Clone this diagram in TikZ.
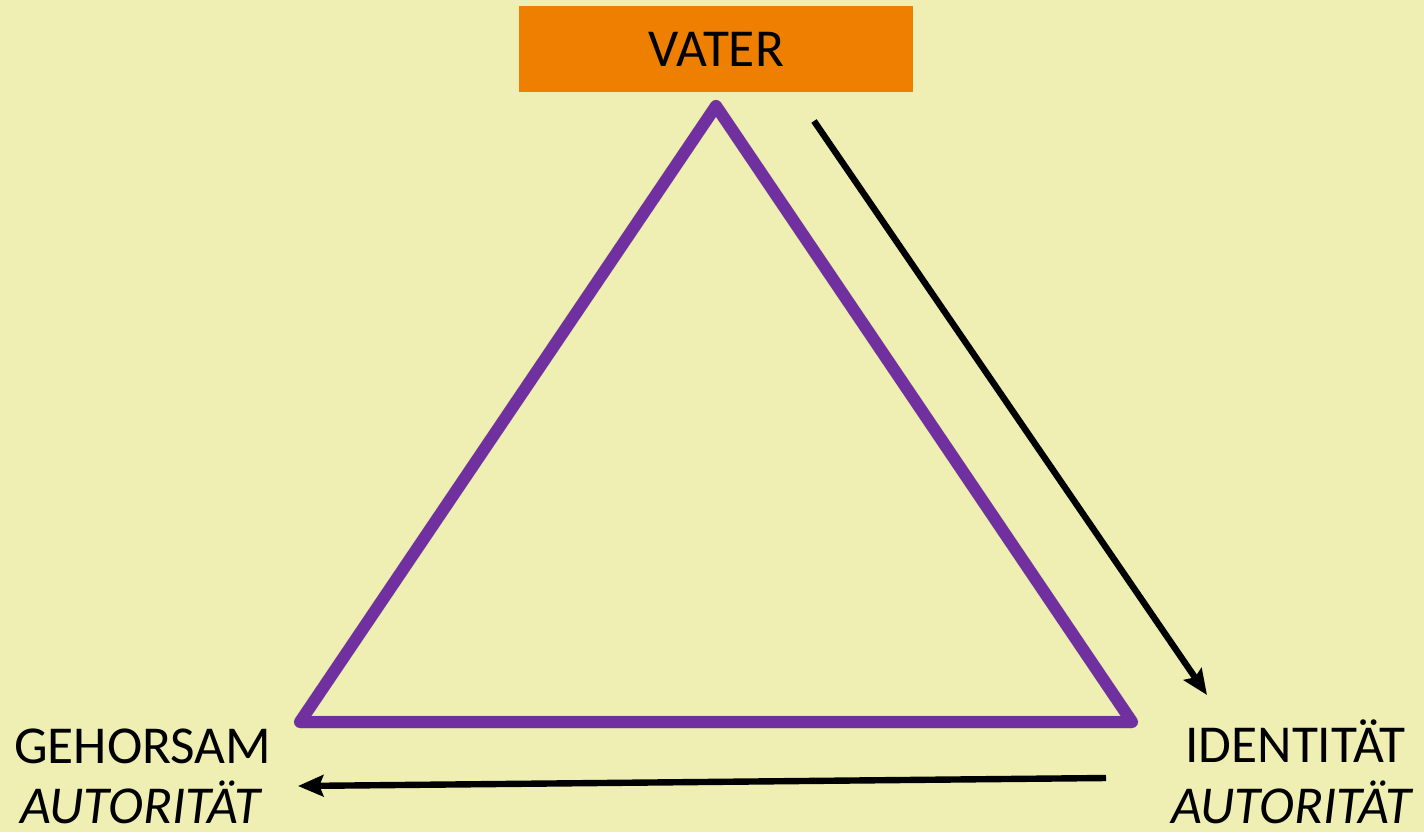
\documentclass[tikz,border=0pt]{standalone}
\usepackage{fontspec}
\setmainfont{Carlito}
\usetikzlibrary{arrows.meta}
\definecolor{bg}{RGB}{239,239,179}
\definecolor{orangebox}{RGB}{239,127,0}
\definecolor{tripurple}{RGB}{112,48,160}
\begin{document}
\begin{tikzpicture}[x=0.75pt,y=-0.75pt,
  lbl/.style={inner sep=0pt,font=\fontsize{40}{48}\selectfont},
  conn/.style={line width=4.8pt,-{Stealth[length=19pt,width=16pt,inset=3pt]}},
  tri/.style={draw=tripurple,line width=9pt,line join=round,line cap=round}]
\fill[bg] (0,0) rectangle (1424,832);
\useasboundingbox (0,0) rectangle (1424,832);
% orange box
\node[fill=orangebox,minimum width=394*0.75pt,minimum height=86*0.75pt,inner sep=0pt,anchor=north west,lbl] (vater) at (519,6) {VATER};
% triangle
\coordinate (top) at (716,106);
\coordinate (bl) at (300,722);
\coordinate (br) at (1132,722);
\draw[black,opacity=0.15,line width=9.5pt,line join=round,line cap=round,shift={(2,4)}] (top) -- (bl) -- (br) -- cycle;
\draw[tri] (top) -- (bl) -- (br) -- cycle;
% labels
\node[lbl,anchor=base west] (geh) at (14,763) {GEHORSAM};
\node[lbl,anchor=base west] (aut1) at (20,823) {\itshape AUTORITÄT};
\node[lbl,anchor=base west] (ident) at (1185,762) {IDENTITÄT};
\node[lbl,anchor=base west] (aut2) at (1171,823) {\itshape AUTORITÄT};
% arrows
\coordinate (a1s) at (814,121);
\coordinate (a1e) at (1207,695);
\coordinate (a2s) at (1106,778);
\coordinate (a2e) at (298,786);
\draw[conn] (a1s) -- (a1e);
\draw[conn] (a2s) -- (a2e);
\end{tikzpicture}
\end{document}
